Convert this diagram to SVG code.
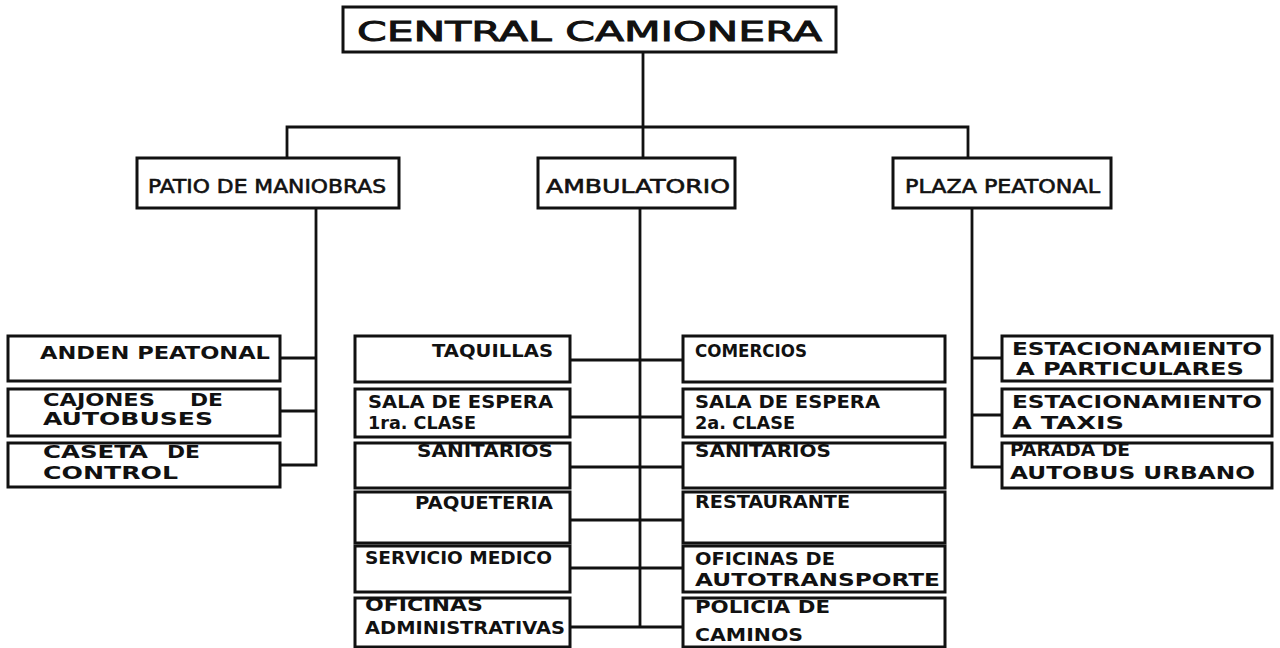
<svg xmlns="http://www.w3.org/2000/svg" width="1280" height="648" viewBox="0 0 1280 648">
<style>
.box{fill:#fff;stroke:#111;stroke-width:3}
.ln{fill:none;stroke:#111;stroke-width:2.8;stroke-linecap:square}
.t1{font-family:"DejaVu Sans",sans-serif;font-size:27px;fill:#111;stroke:#111;stroke-width:0.9}
.t2{font-family:"DejaVu Sans",sans-serif;font-size:19px;fill:#111;stroke:#111;stroke-width:0.6}
.t3{font-family:"DejaVu Sans",sans-serif;font-size:17px;font-weight:bold;fill:#111}
</style>
<rect width="1280" height="648" fill="#fff"/>
<g id="connectors">
<path class="ln" d="M643 52V127M287 127H968M287 127V158M643 127V158M968 127V158"/>
<path class="ln" d="M316 208V465M280 358H316M280 411H316M280 465H316"/>
<path class="ln" d="M640 208V627M570 360H683M570 417H683M570 467H683M570 520H683M570 568H683M570 627H683"/>
<path class="ln" d="M972 208V467M972 358H1002M972 415H1002M972 467H1002"/>
</g>
<g id="central-camionera"><rect class="box" x="343" y="7" width="493" height="45"/><text class="t1" x="357" y="41" textLength="465" lengthAdjust="spacingAndGlyphs">CENTRAL CAMIONERA</text></g>
<g id="patio-maniobras"><rect class="box" x="137" y="158" width="262" height="50"/><text class="t2" x="148" y="193" textLength="238" lengthAdjust="spacingAndGlyphs">PATIO DE MANIOBRAS</text></g>
<g id="ambulatorio"><rect class="box" x="538" y="158" width="197" height="50"/><text class="t2" x="546" y="193" textLength="184" lengthAdjust="spacingAndGlyphs">AMBULATORIO</text></g>
<g id="plaza-peatonal"><rect class="box" x="893" y="158" width="218" height="50"/><text class="t2" x="905" y="193" textLength="195" lengthAdjust="spacingAndGlyphs">PLAZA PEATONAL</text></g>

<g id="anden-peatonal"><rect class="box" x="8" y="336" width="272" height="45"/><text class="t3" x="40" y="359" textLength="230" lengthAdjust="spacingAndGlyphs">ANDEN PEATONAL</text></g>
<g id="cajones-autobuses"><rect class="box" x="8" y="389" width="272" height="47"/><text class="t3" x="43" y="406" textLength="112" lengthAdjust="spacingAndGlyphs">CAJONES</text><text class="t3" x="190" y="406" textLength="33" lengthAdjust="spacingAndGlyphs">DE</text><text class="t3" x="43" y="425" textLength="170" lengthAdjust="spacingAndGlyphs">AUTOBUSES</text></g>
<g id="caseta-control"><rect class="box" x="8" y="443" width="272" height="44"/><text class="t3" x="43" y="458" textLength="105" lengthAdjust="spacingAndGlyphs">CASETA</text><text class="t3" x="167" y="458" textLength="33" lengthAdjust="spacingAndGlyphs">DE</text><text class="t3" x="43" y="479" textLength="135" lengthAdjust="spacingAndGlyphs">CONTROL</text></g>

<g id="taquillas"><rect class="box" x="355" y="336" width="215" height="46"/><text class="t3" x="432" y="357" textLength="121" lengthAdjust="spacingAndGlyphs">TAQUILLAS</text></g>
<g id="sala-espera-1"><rect class="box" x="355" y="389" width="215" height="48"/><text class="t3" x="368" y="408" textLength="185" lengthAdjust="spacingAndGlyphs">SALA DE ESPERA</text><text class="t3" x="368" y="429" textLength="108" lengthAdjust="spacingAndGlyphs">1ra. CLASE</text></g>
<g id="sanitarios-1"><rect class="box" x="355" y="443" width="215" height="45"/><text class="t3" x="417" y="457" textLength="136" lengthAdjust="spacingAndGlyphs">SANITARIOS</text></g>
<g id="paqueteria"><rect class="box" x="355" y="492" width="215" height="51"/><text class="t3" x="415" y="509" textLength="138" lengthAdjust="spacingAndGlyphs">PAQUETERIA</text></g>
<g id="servicio-medico"><rect class="box" x="355" y="546" width="215" height="46"/><text class="t3" x="365" y="564" textLength="187" lengthAdjust="spacingAndGlyphs">SERVICIO MEDICO</text></g>
<g id="oficinas-administrativas"><rect class="box" x="355" y="598" width="215" height="49"/><text class="t3" x="365" y="611" textLength="118" lengthAdjust="spacingAndGlyphs">OFICINAS</text><text class="t3" x="365" y="634" textLength="200" lengthAdjust="spacingAndGlyphs">ADMINISTRATIVAS</text></g>

<g id="comercios"><rect class="box" x="683" y="336" width="262" height="46"/><text class="t3" x="695" y="357" textLength="112" lengthAdjust="spacingAndGlyphs">COMERCIOS</text></g>
<g id="sala-espera-2"><rect class="box" x="683" y="389" width="262" height="48"/><text class="t3" x="695" y="408" textLength="185" lengthAdjust="spacingAndGlyphs">SALA DE ESPERA</text><text class="t3" x="695" y="429" textLength="100" lengthAdjust="spacingAndGlyphs">2a. CLASE</text></g>
<g id="sanitarios-2"><rect class="box" x="683" y="443" width="262" height="45"/><text class="t3" x="695" y="457" textLength="136" lengthAdjust="spacingAndGlyphs">SANITARIOS</text></g>
<g id="restaurante"><rect class="box" x="683" y="492" width="262" height="51"/><text class="t3" x="695" y="508" textLength="155" lengthAdjust="spacingAndGlyphs">RESTAURANTE</text></g>
<g id="oficinas-autotransporte"><rect class="box" x="683" y="546" width="262" height="46"/><text class="t3" x="695" y="565" textLength="140" lengthAdjust="spacingAndGlyphs">OFICINAS DE</text><text class="t3" x="695" y="586" textLength="245" lengthAdjust="spacingAndGlyphs">AUTOTRANSPORTE</text></g>
<g id="policia-caminos"><rect class="box" x="683" y="598" width="262" height="49"/><text class="t3" x="695" y="613" textLength="135" lengthAdjust="spacingAndGlyphs">POLICIA DE</text><text class="t3" x="695" y="641" textLength="108" lengthAdjust="spacingAndGlyphs">CAMINOS</text></g>

<g id="estacionamiento-particulares"><rect class="box" x="1002" y="336" width="270" height="45"/><text class="t3" x="1012" y="355" textLength="250" lengthAdjust="spacingAndGlyphs">ESTACIONAMIENTO</text><text class="t3" x="1016" y="375" textLength="228" lengthAdjust="spacingAndGlyphs">A PARTICULARES</text></g>
<g id="estacionamiento-taxis"><rect class="box" x="1002" y="389" width="270" height="47"/><text class="t3" x="1012" y="408" textLength="250" lengthAdjust="spacingAndGlyphs">ESTACIONAMIENTO</text><text class="t3" x="1012" y="429" textLength="112" lengthAdjust="spacingAndGlyphs">A TAXIS</text></g>
<g id="parada-autobus"><rect class="box" x="1002" y="443" width="270" height="45"/><text class="t3" x="1010" y="456" textLength="120" lengthAdjust="spacingAndGlyphs">PARADA DE</text><text class="t3" x="1010" y="479" textLength="245" lengthAdjust="spacingAndGlyphs">AUTOBUS URBANO</text></g>
</svg>
